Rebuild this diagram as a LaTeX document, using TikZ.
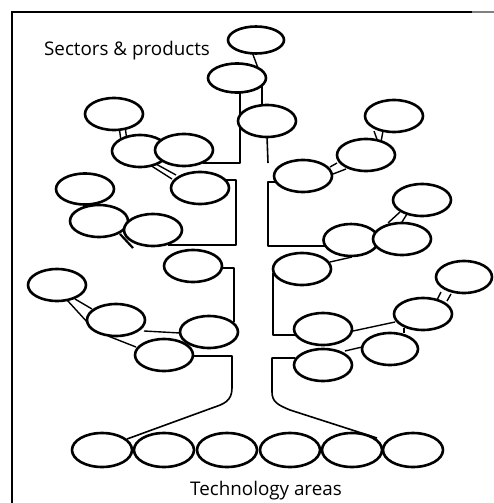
\documentclass[tikz,border=0pt]{standalone}
\usepackage{fontspec}
\setmainfont{Open Sans}
\usetikzlibrary{shapes.geometric,calc,backgrounds}
\begin{document}
\begin{tikzpicture}[x=1pt,y=-1pt,
  blob/.style={ellipse, draw=black, line width=2.6pt, fill=white,
    minimum width=58pt, minimum height=32pt, inner sep=0pt, outer sep=0pt},
  base/.style={blob, minimum width=60pt, minimum height=34pt},
  link/.style={line width=1.4pt, draw=black},
  trunk/.style={line width=1.6pt, draw=black, line join=round},
  lbl/.style={font=\fontsize{18.8}{22}\selectfont, inner sep=0pt}]
\useasboundingbox (0,0) rectangle (494,503);
% frame
\draw[line width=1.2pt] (12,503) -- (12,12) -- (472,12);
\draw[line width=1.2pt, gray] (472,12) -- (494,12);
% labels
\node[lbl] (sec) at (127,51) {Sectors \& products};
\node[lbl] (tech) at (266,491) {Technology areas};
% central column
\node[blob, minimum width=56pt, minimum height=27pt] (E1) at (256,40) {};
\node[blob, minimum height=29pt] (E2) at (237,78) {};
\node[blob] (E3) at (267,121) {};
% left side
\node[blob] (L1) at (114,114) {};
\node[blob, minimum width=56pt] (L2) at (140,151) {};
\node[blob] (L3) at (184,150) {};
\node[blob] (L4) at (200,188) {};
\node[blob, minimum height=31pt] (L5) at (85,189) {};
\node[blob] (L6) at (99,221) {};
\node[blob] (L7) at (153,230) {};
\node[blob] (L8) at (193,266) {};
\node[blob] (L9) at (57,285) {};
\node[blob] (L10) at (116,320) {};
\node[blob] (L11) at (209,332) {};
\node[blob] (L12) at (164,355) {};
% right side
\node[blob] (R1) at (394,116) {};
\node[blob] (R2) at (366,155) {};
\node[blob] (R3) at (303,176) {};
\node[blob] (R4) at (422,200) {};
\node[blob, minimum width=55pt] (R5) at (351,240) {};
\node[blob] (R6) at (402,239) {};
\node[blob] (R7) at (302,269) {};
\node[blob, minimum width=56pt] (R8) at (464,277) {};
\node[blob] (R9) at (423,314) {};
\node[blob] (R10) at (323,329) {};
\node[blob, minimum width=56pt] (R11) at (390,349) {};
\node[blob] (R12) at (323,365) {};
% base row
\node[base] (B1) at (102,450) {};
\node[base] (B2) at (164,450) {};
\node[base] (B3) at (227,450) {};
\node[base] (B4) at (290,450) {};
\node[base] (B5) at (352,450) {};
\node[base] (B6) at (413,450) {};
\coordinate (rAend) at (268,163);
\begin{scope}[on background layer]
  % trunk, left side
  \draw[trunk] ($(E2)+(3,12)$) |- ($(L3)+(19,13)$);
  \draw[trunk] ($(L4)+(25,-8)$) -- ($(L4)+(36,-8)$) |- ($(L7)+(15,15)$);
  \draw[trunk] ($(L8)+(27,2)$) -| ($(L11)+(25,-10)$);
  \draw[trunk] ($(L12)+(26,1)$) -- (232,356) -- (232,388)
     .. controls (232,401) and (224,404) .. (212,408) -- ($(B1)+(25,-11)$);
  % trunk, right side
  \draw[trunk] ($(E3)+(0,15)$) -- (rAend);
  \draw[trunk] ($(R3)+(-27,6)$) -- (268,182) |- ($(R5)+(-26,6)$);
  \draw[trunk] ($(R7)+(-29,4)$) |- ($(R10)+(-27,6)$);
  \draw[trunk] ($(R12)+(-28,-7)$) -- (272,358) -- (272,392)
     .. controls (272,402) and (278,405) .. (290,410) -- ($(B5)+(25,-12)$);
  % stubs, centre
  \draw[link] ($(E1)+(-4,12)$) -- ($(E2)+(21,-10)$);
  \draw[link] ($(E2)+(25,8)$) -- ($(E3)+(-5,-15)$);
  % stubs, left
  \draw[link] ($(L1)+(5,12)$) -- ($(L2)+(-19,-10)$);
  \draw[link] ($(L1)+(11,12)$) -- ($(L2)+(-13,-10)$);
  \draw[link] ($(L2)+(10,14)$) -- ($(L4)+(-28,-9)$);
  \draw[link] ($(L2)+(16,13)$) -- ($(L4)+(-24,-13)$);
  \draw[link, line width=2.2pt] ($(L6)+(21,13)$) -- ($(L7)+(-20,18)$);
  \draw[link] ($(L9)+(10,15)$) -- ($(L10)+(-28,3)$);
  \draw[link] ($(L9)+(18,14)$) -- ($(L10)+(-24,-11)$);
  \draw[link] ($(L10)+(-8,16)$) -- ($(L12)+(-28,-8)$);
  \draw[link] ($(L10)+(28,11)$) -- ($(L11)+(-29,1)$);
  % stubs, right
  \draw[link] ($(R1)+(-20,15)$) -- ($(R2)+(12,-13)$);
  \draw[link] ($(R1)+(-11,15)$) -- ($(R2)+(15,-13)$);
  \draw[link] ($(R3)+(27,-9)$) -- ($(R2)+(-29,8)$);
  \draw[link] ($(R3)+(30,-2)$) -- ($(R2)+(-20,14)$);
  \draw[link] ($(R4)+(-22,12)$) -- ($(R6)+(-14,-16)$);
  \draw[link] ($(R4)+(-15,14)$) -- ($(R6)+(0,-17)$);
  \draw[link] ($(R7)+(28,-7)$) -- ($(R5)+(1,17)$);
  \draw[link] ($(R8)+(-23,15)$) -- ($(R9)+(14,-14)$);
  \draw[link] ($(R8)+(-13,17)$) -- ($(R9)+(24,-13)$);
  \draw[link] ($(R10)+(30,2)$) -- ($(R9)+(-28,8)$);
  \draw[link] ($(R9)+(-19,14)$) -- ($(R11)+(14,-16)$);
  \draw[link] ($(R12)+(22,-14)$) -- ($(R11)+(-28,-2)$);
\end{scope}
\end{tikzpicture}
\end{document}
